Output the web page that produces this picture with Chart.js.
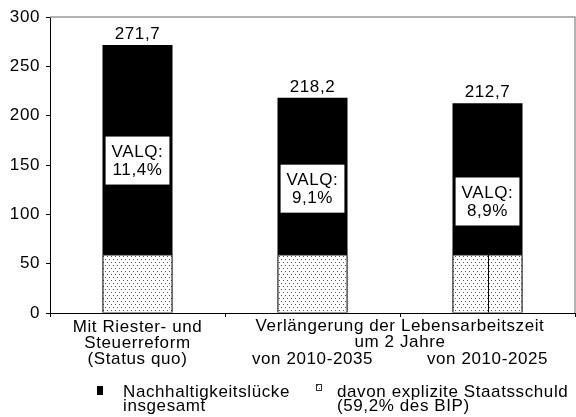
<!DOCTYPE html>
<html><head><meta charset="utf-8">
<script src="https://cdn.jsdelivr.net/npm/chart.js@4/dist/chart.umd.min.js"></script>
<style>html,body{margin:0;padding:0;background:#fff}#wrap{width:576px;height:417px;position:relative}</style>
</head><body><div id="wrap"><canvas id="c" width="576" height="417"></canvas></div>
<script>
// ---- data ----
const categories = [["Mit Riester- und","Steuerreform","(Status quo)"],["","","von 2010-2035"],["","","von 2010-2025"]];
const groupLabel = ["Verlängerung der Lebensarbeitszeit","um 2 Jahre"];
const totalGap = [271.7, 218.2, 212.7];
const explicitDebt = [59.2, 59.2, 59.2];
const valueLabels = ["271,7","218,2","212,7"];
const valqLabels = ["11,4%","9,1%","8,9%"];
const yTicks = [0,50,100,150,200,250,300];
const legendLabels = [["Nachhaltigkeitslücke","insgesamt"],["davon explizite Staatsschuld","(59,2% des BIP)"]];

const FAM = "'Liberation Sans', Arial, Helvetica, sans-serif";
const FS = 17;
const SPACING = '0.6px';

const canvas = document.getElementById('c');
const ctx0 = canvas.getContext('2d');
function makePattern(ctx){
  const p = document.createElement('canvas'); p.width = 4; p.height = 6;
  const g = p.getContext('2d');
  g.fillStyle = '#fff'; g.fillRect(0,0,4,6);
  g.fillStyle = '#555'; g.fillRect(1,1,1,1); g.fillRect(3,4,1,1);
  return ctx.createPattern(p,'repeat');
}
const dots = makePattern(ctx0);

const annot = {
  valqY: [154.5, 126, 113],
  dividerBars: [2]
};

const deco = {
  id: 'deco',
  beforeUpdate(chart){ chart.ctx.letterSpacing = SPACING; },
  beforeDraw(chart){ chart.ctx.letterSpacing = SPACING; },
  afterDraw(chart){
    const ctx = chart.ctx, a = chart.chartArea;
    const xs = chart.scales.x, ys = chart.scales.y;
    ctx.save();
    ctx.letterSpacing = SPACING;
    // frame top/right
    ctx.strokeStyle = '#9a9a9a'; ctx.lineWidth = 1.5;
    ctx.beginPath(); ctx.moveTo(a.left, a.top); ctx.lineTo(a.right, a.top); ctx.lineTo(a.right, a.bottom); ctx.stroke();
    ctx.font = FS + 'px ' + FAM; ctx.fillStyle = '#000';
    // divider in dotted bars
    const debtMeta = chart.getDatasetMeta(0);
    ctx.strokeStyle = '#000'; ctx.lineWidth = 1;
    annot.dividerBars.forEach(i => {
      const el = debtMeta.data[i];
      const x = Math.round(el.x) + 0.5;
      ctx.beginPath(); ctx.moveTo(x, el.y); ctx.lineTo(x, el.base); ctx.stroke();
    });
    // value labels
    const totMeta = chart.getDatasetMeta(1);
    ctx.textAlign = 'center'; ctx.textBaseline = 'alphabetic';
    totMeta.data.forEach((el, i) => { ctx.fillText(valueLabels[i], el.x, el.y - 6); });
    // VALQ boxes
    totMeta.data.forEach((el, i) => {
      const cy = ys.getPixelForValue(annot.valqY[i]);
      const lines = ['VALQ:', valqLabels[i]];
      const w = Math.max(...lines.map(t => ctx.measureText(t).width)) + 12;
      const h = 48;
      ctx.fillStyle = '#fff';
      ctx.fillRect(el.x - w/2, cy - h/2, w, h);
      ctx.fillStyle = '#000';
      ctx.fillText(lines[0], el.x, cy - 4);
      ctx.fillText(lines[1], el.x, cy + 14);
    });
    // group label
    const gx = (xs.getPixelForValue(1) + xs.getPixelForValue(2)) / 2;
    ctx.fillText(groupLabel[0], gx, 331);
    ctx.fillText(groupLabel[1], gx, 347);
    // legend
    ctx.textAlign = 'left';
    ctx.fillStyle = '#000';
    ctx.fillRect(97, 386, 6, 9);
    ctx.fillText(legendLabels[0][0], 123, 397);
    ctx.fillText(legendLabels[0][1], 123, 411);
    ctx.fillStyle = dots; ctx.fillRect(316, 384, 6, 7);
    ctx.strokeStyle = '#333'; ctx.lineWidth = 1; ctx.strokeRect(316.5, 384.5, 5, 6);
    ctx.fillStyle = '#000';
    ctx.fillText(legendLabels[1][0], 337, 397);
    ctx.fillText(legendLabels[1][1], 337, 411);
    ctx.restore();
  }
};

new Chart(canvas, {
  type: 'bar',
  data: {
    labels: categories,
    datasets: [
      { label: legendLabels[1].join(' '), data: explicitDebt, backgroundColor: dots, borderColor: '#333', borderWidth: 1, borderSkipped: 'bottom', grouped: false, order: 0 },
      { label: legendLabels[0].join(' '), data: totalGap, backgroundColor: '#000', borderWidth: 0, grouped: false, order: 1 }
    ]
  },
  options: {
    responsive: false, animation: false,
    layout: { padding: { top: 17, right: 1, left: 0, bottom: 0 } },
    datasets: { bar: { categoryPercentage: 1, barPercentage: 0.4 } },
    plugins: { legend: { display: false }, tooltip: { enabled: false }, title: { display: false } },
    scales: {
      x: {
        grid: { offset: true, drawOnChartArea: false, tickLength: 4, color: '#000' },
        border: { color: '#000', width: 1 },
        ticks: { color: '#000', font: { family: FAM, size: FS, lineHeight: 16/17 }, padding: 2, maxRotation: 0, autoSkip: false },
        afterFit(s){ s.height = 104; }
      },
      y: {
        min: 0, max: 300,
        afterBuildTicks(s){ s.ticks = yTicks.map(v => ({ value: v })); },
        grid: { drawOnChartArea: false, tickLength: 4, color: '#000' },
        border: { color: '#000', width: 1 },
        ticks: { color: '#000', font: { family: FAM, size: FS }, padding: 6 },
        afterFit(s){ s.width = 50; }
      }
    }
  },
  plugins: [deco]
});
</script></body></html>
